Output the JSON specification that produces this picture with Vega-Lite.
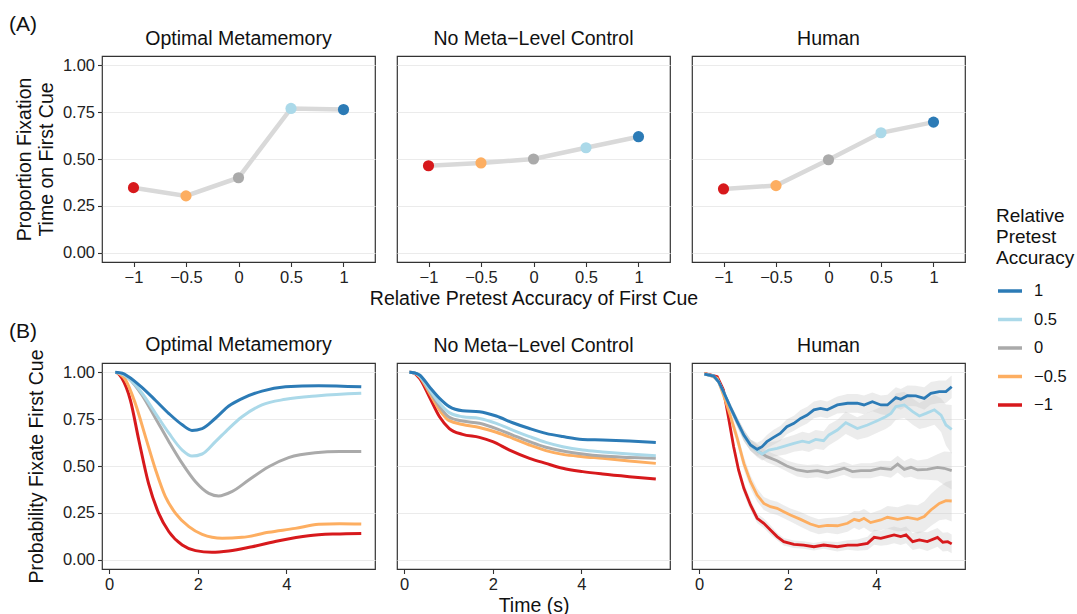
{
"$schema":"https://vega.github.io/schema/vega-lite/v6.json",
"padding":{"left":9,"top":13,"right":5,"bottom":0},
"background":"white",
"spacing":11,
"datasets":{
"A":[
{"p":"opt","lvl":"−1","x":-1,"y":0.347},{"p":"opt","lvl":"−0.5","x":-0.5,"y":0.303},{"p":"opt","lvl":"0","x":0,"y":0.40},{"p":"opt","lvl":"0.5","x":0.5,"y":0.77},{"p":"opt","lvl":"1","x":1,"y":0.764},
{"p":"nm","lvl":"−1","x":-1,"y":0.464},{"p":"nm","lvl":"−0.5","x":-0.5,"y":0.479},{"p":"nm","lvl":"0","x":0,"y":0.50},{"p":"nm","lvl":"0.5","x":0.5,"y":0.56},{"p":"nm","lvl":"1","x":1,"y":0.619},
{"p":"hum","lvl":"−1","x":-1,"y":0.34},{"p":"hum","lvl":"−0.5","x":-0.5,"y":0.358},{"p":"hum","lvl":"0","x":0,"y":0.496},{"p":"hum","lvl":"0.5","x":0.5,"y":0.64},{"p":"hum","lvl":"1","x":1,"y":0.697}
],
"B":[
{"p":"opt","lvl":"−1","t":0.14,"v":1.0},{"p":"opt","lvl":"−1","t":0.2,"v":0.995},{"p":"opt","lvl":"−1","t":0.29,"v":0.968},{"p":"opt","lvl":"−1","t":0.48,"v":0.852},{"p":"opt","lvl":"−1","t":0.67,"v":0.639},{"p":"opt","lvl":"−1","t":0.89,"v":0.407},{"p":"opt","lvl":"−1","t":1.12,"v":0.247},{"p":"opt","lvl":"−1","t":1.35,"v":0.149},{"p":"opt","lvl":"−1","t":1.65,"v":0.078},{"p":"opt","lvl":"−1","t":1.95,"v":0.048},{"p":"opt","lvl":"−1","t":2.32,"v":0.039},{"p":"opt","lvl":"−1","t":2.7,"v":0.046},{"p":"opt","lvl":"−1","t":3.23,"v":0.069},{"p":"opt","lvl":"−1","t":3.83,"v":0.101},{"p":"opt","lvl":"−1","t":4.5,"v":0.128},{"p":"opt","lvl":"−1","t":5.1,"v":0.137},{"p":"opt","lvl":"−1","t":5.69,"v":0.14},
{"p":"opt","lvl":"−0.5","t":0.14,"v":1.0},{"p":"opt","lvl":"−0.5","t":0.25,"v":0.99},{"p":"opt","lvl":"−0.5","t":0.37,"v":0.96},{"p":"opt","lvl":"−0.5","t":0.59,"v":0.835},{"p":"opt","lvl":"−0.5","t":0.82,"v":0.657},{"p":"opt","lvl":"−0.5","t":1.05,"v":0.479},{"p":"opt","lvl":"−0.5","t":1.27,"v":0.336},{"p":"opt","lvl":"−0.5","t":1.5,"v":0.247},{"p":"opt","lvl":"−0.5","t":1.8,"v":0.176},{"p":"opt","lvl":"−0.5","t":2.1,"v":0.135},{"p":"opt","lvl":"−0.5","t":2.55,"v":0.114},{"p":"opt","lvl":"−0.5","t":3.0,"v":0.119},{"p":"opt","lvl":"−0.5","t":3.6,"v":0.146},{"p":"opt","lvl":"−0.5","t":4.2,"v":0.167},{"p":"opt","lvl":"−0.5","t":4.73,"v":0.189},{"p":"opt","lvl":"−0.5","t":5.2,"v":0.192},{"p":"opt","lvl":"−0.5","t":5.69,"v":0.19},
{"p":"opt","lvl":"0","t":0.14,"v":1.0},{"p":"opt","lvl":"0","t":0.3,"v":0.99},{"p":"opt","lvl":"0","t":0.44,"v":0.968},{"p":"opt","lvl":"0","t":0.74,"v":0.88},{"p":"opt","lvl":"0","t":1.05,"v":0.754},{"p":"opt","lvl":"0","t":1.35,"v":0.63},{"p":"opt","lvl":"0","t":1.65,"v":0.514},{"p":"opt","lvl":"0","t":1.95,"v":0.416},{"p":"opt","lvl":"0","t":2.25,"v":0.354},{"p":"opt","lvl":"0","t":2.47,"v":0.34},{"p":"opt","lvl":"0","t":2.77,"v":0.363},{"p":"opt","lvl":"0","t":3.15,"v":0.425},{"p":"opt","lvl":"0","t":3.6,"v":0.496},{"p":"opt","lvl":"0","t":4.05,"v":0.545},{"p":"opt","lvl":"0","t":4.65,"v":0.571},{"p":"opt","lvl":"0","t":5.2,"v":0.577},{"p":"opt","lvl":"0","t":5.69,"v":0.577},
{"p":"opt","lvl":"0.5","t":0.14,"v":1.0},{"p":"opt","lvl":"0.5","t":0.3,"v":0.99},{"p":"opt","lvl":"0.5","t":0.44,"v":0.968},{"p":"opt","lvl":"0.5","t":0.74,"v":0.89},{"p":"opt","lvl":"0.5","t":1.05,"v":0.78},{"p":"opt","lvl":"0.5","t":1.35,"v":0.675},{"p":"opt","lvl":"0.5","t":1.65,"v":0.585},{"p":"opt","lvl":"0.5","t":1.87,"v":0.553},{"p":"opt","lvl":"0.5","t":2.1,"v":0.564},{"p":"opt","lvl":"0.5","t":2.4,"v":0.63},{"p":"opt","lvl":"0.5","t":2.7,"v":0.70},{"p":"opt","lvl":"0.5","t":3.0,"v":0.763},{"p":"opt","lvl":"0.5","t":3.45,"v":0.826},{"p":"opt","lvl":"0.5","t":3.98,"v":0.856},{"p":"opt","lvl":"0.5","t":4.73,"v":0.875},{"p":"opt","lvl":"0.5","t":5.69,"v":0.888},
{"p":"opt","lvl":"1","t":0.14,"v":1.0},{"p":"opt","lvl":"1","t":0.3,"v":0.995},{"p":"opt","lvl":"1","t":0.44,"v":0.977},{"p":"opt","lvl":"1","t":0.74,"v":0.92},{"p":"opt","lvl":"1","t":1.05,"v":0.85},{"p":"opt","lvl":"1","t":1.35,"v":0.78},{"p":"opt","lvl":"1","t":1.65,"v":0.72},{"p":"opt","lvl":"1","t":1.87,"v":0.69},{"p":"opt","lvl":"1","t":2.1,"v":0.70},{"p":"opt","lvl":"1","t":2.4,"v":0.755},{"p":"opt","lvl":"1","t":2.7,"v":0.82},{"p":"opt","lvl":"1","t":3.0,"v":0.86},{"p":"opt","lvl":"1","t":3.45,"v":0.90},{"p":"opt","lvl":"1","t":3.98,"v":0.923},{"p":"opt","lvl":"1","t":4.73,"v":0.929},{"p":"opt","lvl":"1","t":5.69,"v":0.923},
{"p":"nm","lvl":"−1","t":0.12,"v":1.0},{"p":"nm","lvl":"−1","t":0.22,"v":0.997},{"p":"nm","lvl":"−1","t":0.35,"v":0.968},{"p":"nm","lvl":"−1","t":0.57,"v":0.87},{"p":"nm","lvl":"−1","t":0.8,"v":0.763},{"p":"nm","lvl":"−1","t":1.02,"v":0.70},{"p":"nm","lvl":"−1","t":1.32,"v":0.669},{"p":"nm","lvl":"−1","t":1.7,"v":0.653},{"p":"nm","lvl":"−1","t":2.0,"v":0.63},{"p":"nm","lvl":"−1","t":2.38,"v":0.585},{"p":"nm","lvl":"−1","t":2.83,"v":0.541},{"p":"nm","lvl":"−1","t":3.2,"v":0.514},{"p":"nm","lvl":"−1","t":3.58,"v":0.488},{"p":"nm","lvl":"−1","t":4.03,"v":0.47},{"p":"nm","lvl":"−1","t":4.48,"v":0.457},{"p":"nm","lvl":"−1","t":5.08,"v":0.443},{"p":"nm","lvl":"−1","t":5.68,"v":0.431},
{"p":"nm","lvl":"−0.5","t":0.12,"v":1.0},{"p":"nm","lvl":"−0.5","t":0.22,"v":0.998},{"p":"nm","lvl":"−0.5","t":0.35,"v":0.977},{"p":"nm","lvl":"−0.5","t":0.57,"v":0.891},{"p":"nm","lvl":"−0.5","t":0.8,"v":0.799},{"p":"nm","lvl":"−0.5","t":1.02,"v":0.742},{"p":"nm","lvl":"−0.5","t":1.32,"v":0.722},{"p":"nm","lvl":"−0.5","t":1.7,"v":0.706},{"p":"nm","lvl":"−0.5","t":2.08,"v":0.68},{"p":"nm","lvl":"−0.5","t":2.45,"v":0.648},{"p":"nm","lvl":"−0.5","t":2.83,"v":0.612},{"p":"nm","lvl":"−0.5","t":3.2,"v":0.582},{"p":"nm","lvl":"−0.5","t":3.58,"v":0.562},{"p":"nm","lvl":"−0.5","t":4.03,"v":0.55},{"p":"nm","lvl":"−0.5","t":4.48,"v":0.541},{"p":"nm","lvl":"−0.5","t":5.08,"v":0.527},{"p":"nm","lvl":"−0.5","t":5.68,"v":0.514},
{"p":"nm","lvl":"0","t":0.12,"v":1.0},{"p":"nm","lvl":"0","t":0.22,"v":0.998},{"p":"nm","lvl":"0","t":0.35,"v":0.98},{"p":"nm","lvl":"0","t":0.57,"v":0.902},{"p":"nm","lvl":"0","t":0.8,"v":0.817},{"p":"nm","lvl":"0","t":1.02,"v":0.76},{"p":"nm","lvl":"0","t":1.32,"v":0.74},{"p":"nm","lvl":"0","t":1.7,"v":0.728},{"p":"nm","lvl":"0","t":2.08,"v":0.70},{"p":"nm","lvl":"0","t":2.45,"v":0.665},{"p":"nm","lvl":"0","t":2.83,"v":0.63},{"p":"nm","lvl":"0","t":3.2,"v":0.60},{"p":"nm","lvl":"0","t":3.58,"v":0.58},{"p":"nm","lvl":"0","t":4.03,"v":0.564},{"p":"nm","lvl":"0","t":4.48,"v":0.553},{"p":"nm","lvl":"0","t":5.08,"v":0.546},{"p":"nm","lvl":"0","t":5.68,"v":0.541},
{"p":"nm","lvl":"0.5","t":0.12,"v":1.0},{"p":"nm","lvl":"0.5","t":0.22,"v":0.998},{"p":"nm","lvl":"0.5","t":0.35,"v":0.982},{"p":"nm","lvl":"0.5","t":0.57,"v":0.909},{"p":"nm","lvl":"0.5","t":0.8,"v":0.835},{"p":"nm","lvl":"0.5","t":1.02,"v":0.785},{"p":"nm","lvl":"0.5","t":1.32,"v":0.763},{"p":"nm","lvl":"0.5","t":1.7,"v":0.754},{"p":"nm","lvl":"0.5","t":2.08,"v":0.728},{"p":"nm","lvl":"0.5","t":2.45,"v":0.692},{"p":"nm","lvl":"0.5","t":2.83,"v":0.657},{"p":"nm","lvl":"0.5","t":3.2,"v":0.626},{"p":"nm","lvl":"0.5","t":3.58,"v":0.603},{"p":"nm","lvl":"0.5","t":4.03,"v":0.585},{"p":"nm","lvl":"0.5","t":4.48,"v":0.575},{"p":"nm","lvl":"0.5","t":5.08,"v":0.564},{"p":"nm","lvl":"0.5","t":5.68,"v":0.555},
{"p":"nm","lvl":"1","t":0.12,"v":1.0},{"p":"nm","lvl":"1","t":0.22,"v":0.998},{"p":"nm","lvl":"1","t":0.35,"v":0.986},{"p":"nm","lvl":"1","t":0.57,"v":0.923},{"p":"nm","lvl":"1","t":0.8,"v":0.861},{"p":"nm","lvl":"1","t":1.02,"v":0.817},{"p":"nm","lvl":"1","t":1.32,"v":0.795},{"p":"nm","lvl":"1","t":1.7,"v":0.79},{"p":"nm","lvl":"1","t":2.08,"v":0.767},{"p":"nm","lvl":"1","t":2.45,"v":0.731},{"p":"nm","lvl":"1","t":2.83,"v":0.70},{"p":"nm","lvl":"1","t":3.2,"v":0.674},{"p":"nm","lvl":"1","t":3.58,"v":0.657},{"p":"nm","lvl":"1","t":4.03,"v":0.642},{"p":"nm","lvl":"1","t":4.48,"v":0.639},{"p":"nm","lvl":"1","t":5.08,"v":0.633},{"p":"nm","lvl":"1","t":5.68,"v":0.625},
{"p":"hum","lvl":"−1","t":0.12,"v":0.995,"lo":0.99,"hi":1.0},{"p":"hum","lvl":"−1","t":0.41,"v":0.977,"lo":0.967,"hi":0.987},{"p":"hum","lvl":"−1","t":0.55,"v":0.906,"lo":0.886,"hi":0.926},{"p":"hum","lvl":"−1","t":0.66,"v":0.763,"lo":0.733,"hi":0.793},{"p":"hum","lvl":"−1","t":0.78,"v":0.603,"lo":0.573,"hi":0.633},{"p":"hum","lvl":"−1","t":0.89,"v":0.479,"lo":0.449,"hi":0.509},{"p":"hum","lvl":"−1","t":1.01,"v":0.381,"lo":0.351,"hi":0.411},{"p":"hum","lvl":"−1","t":1.16,"v":0.292,"lo":0.262,"hi":0.322},{"p":"hum","lvl":"−1","t":1.31,"v":0.221,"lo":0.196,"hi":0.246},{"p":"hum","lvl":"−1","t":1.46,"v":0.194,"lo":0.169,"hi":0.219},{"p":"hum","lvl":"−1","t":1.61,"v":0.158,"lo":0.133,"hi":0.183},{"p":"hum","lvl":"−1","t":1.76,"v":0.123,"lo":0.103,"hi":0.143},{"p":"hum","lvl":"−1","t":1.91,"v":0.096,"lo":0.076,"hi":0.116},{"p":"hum","lvl":"−1","t":2.14,"v":0.082,"lo":0.062,"hi":0.102},{"p":"hum","lvl":"−1","t":2.36,"v":0.078,"lo":0.058,"hi":0.098},{"p":"hum","lvl":"−1","t":2.59,"v":0.069,"lo":0.049,"hi":0.089},{"p":"hum","lvl":"−1","t":2.81,"v":0.078,"lo":0.058,"hi":0.098},{"p":"hum","lvl":"−1","t":3.12,"v":0.069,"lo":0.044,"hi":0.094},{"p":"hum","lvl":"−1","t":3.35,"v":0.078,"lo":0.053,"hi":0.103},{"p":"hum","lvl":"−1","t":3.57,"v":0.078,"lo":0.048,"hi":0.108},{"p":"hum","lvl":"−1","t":3.8,"v":0.087,"lo":0.052,"hi":0.122},{"p":"hum","lvl":"−1","t":3.95,"v":0.119,"lo":0.079,"hi":0.159},{"p":"hum","lvl":"−1","t":4.1,"v":0.114,"lo":0.074,"hi":0.154},{"p":"hum","lvl":"−1","t":4.25,"v":0.123,"lo":0.078,"hi":0.168},{"p":"hum","lvl":"−1","t":4.4,"v":0.132,"lo":0.087,"hi":0.177},{"p":"hum","lvl":"−1","t":4.55,"v":0.123,"lo":0.078,"hi":0.168},{"p":"hum","lvl":"−1","t":4.67,"v":0.132,"lo":0.087,"hi":0.177},{"p":"hum","lvl":"−1","t":4.82,"v":0.096,"lo":0.051,"hi":0.141},{"p":"hum","lvl":"−1","t":4.97,"v":0.105,"lo":0.06,"hi":0.15},{"p":"hum","lvl":"−1","t":5.15,"v":0.096,"lo":0.046,"hi":0.146},{"p":"hum","lvl":"−1","t":5.38,"v":0.119,"lo":0.069,"hi":0.169},{"p":"hum","lvl":"−1","t":5.5,"v":0.093,"lo":0.043,"hi":0.143},{"p":"hum","lvl":"−1","t":5.61,"v":0.096,"lo":0.046,"hi":0.146},{"p":"hum","lvl":"−1","t":5.7,"v":0.084,"lo":0.034,"hi":0.134},
{"p":"hum","lvl":"−0.5","t":0.12,"v":0.995,"lo":0.99,"hi":1.0},{"p":"hum","lvl":"−0.5","t":0.41,"v":0.968,"lo":0.958,"hi":0.978},{"p":"hum","lvl":"−0.5","t":0.55,"v":0.879,"lo":0.859,"hi":0.899},{"p":"hum","lvl":"−0.5","t":0.7,"v":0.772,"lo":0.742,"hi":0.802},{"p":"hum","lvl":"−0.5","t":0.86,"v":0.648,"lo":0.613,"hi":0.683},{"p":"hum","lvl":"−0.5","t":1.01,"v":0.514,"lo":0.479,"hi":0.549},{"p":"hum","lvl":"−0.5","t":1.16,"v":0.416,"lo":0.381,"hi":0.451},{"p":"hum","lvl":"−0.5","t":1.31,"v":0.345,"lo":0.31,"hi":0.38},{"p":"hum","lvl":"−0.5","t":1.46,"v":0.30,"lo":0.265,"hi":0.335},{"p":"hum","lvl":"−0.5","t":1.61,"v":0.283,"lo":0.248,"hi":0.318},{"p":"hum","lvl":"−0.5","t":1.76,"v":0.274,"lo":0.239,"hi":0.309},{"p":"hum","lvl":"−0.5","t":1.91,"v":0.256,"lo":0.221,"hi":0.291},{"p":"hum","lvl":"−0.5","t":2.06,"v":0.238,"lo":0.203,"hi":0.273},{"p":"hum","lvl":"−0.5","t":2.29,"v":0.215,"lo":0.175,"hi":0.255},{"p":"hum","lvl":"−0.5","t":2.51,"v":0.19,"lo":0.15,"hi":0.23},{"p":"hum","lvl":"−0.5","t":2.7,"v":0.176,"lo":0.136,"hi":0.216},{"p":"hum","lvl":"−0.5","t":2.89,"v":0.183,"lo":0.143,"hi":0.223},{"p":"hum","lvl":"−0.5","t":3.12,"v":0.181,"lo":0.136,"hi":0.226},{"p":"hum","lvl":"−0.5","t":3.35,"v":0.194,"lo":0.149,"hi":0.239},{"p":"hum","lvl":"−0.5","t":3.5,"v":0.215,"lo":0.17,"hi":0.26},{"p":"hum","lvl":"−0.5","t":3.61,"v":0.208,"lo":0.158,"hi":0.258},{"p":"hum","lvl":"−0.5","t":3.72,"v":0.221,"lo":0.171,"hi":0.271},{"p":"hum","lvl":"−0.5","t":3.87,"v":0.198,"lo":0.148,"hi":0.248},{"p":"hum","lvl":"−0.5","t":4.1,"v":0.212,"lo":0.157,"hi":0.267},{"p":"hum","lvl":"−0.5","t":4.25,"v":0.226,"lo":0.166,"hi":0.286},{"p":"hum","lvl":"−0.5","t":4.48,"v":0.215,"lo":0.15,"hi":0.28},{"p":"hum","lvl":"−0.5","t":4.7,"v":0.226,"lo":0.156,"hi":0.296},{"p":"hum","lvl":"−0.5","t":4.93,"v":0.215,"lo":0.14,"hi":0.29},{"p":"hum","lvl":"−0.5","t":5.08,"v":0.23,"lo":0.15,"hi":0.31},{"p":"hum","lvl":"−0.5","t":5.23,"v":0.265,"lo":0.18,"hi":0.35},{"p":"hum","lvl":"−0.5","t":5.42,"v":0.30,"lo":0.21,"hi":0.39},{"p":"hum","lvl":"−0.5","t":5.57,"v":0.315,"lo":0.215,"hi":0.415},{"p":"hum","lvl":"−0.5","t":5.7,"v":0.313,"lo":0.203,"hi":0.423},
{"p":"hum","lvl":"0","t":0.12,"v":0.991,"lo":0.983,"hi":0.999},{"p":"hum","lvl":"0","t":0.33,"v":0.98,"lo":0.97,"hi":0.99},{"p":"hum","lvl":"0","t":0.44,"v":0.95,"lo":0.938,"hi":0.962},{"p":"hum","lvl":"0","t":0.55,"v":0.895,"lo":0.88,"hi":0.91},{"p":"hum","lvl":"0","t":0.7,"v":0.815,"lo":0.795,"hi":0.835},{"p":"hum","lvl":"0","t":0.86,"v":0.735,"lo":0.71,"hi":0.76},{"p":"hum","lvl":"0","t":1.01,"v":0.663,"lo":0.633,"hi":0.693},{"p":"hum","lvl":"0","t":1.16,"v":0.612,"lo":0.582,"hi":0.642},{"p":"hum","lvl":"0","t":1.31,"v":0.582,"lo":0.552,"hi":0.612},{"p":"hum","lvl":"0","t":1.53,"v":0.55,"lo":0.52,"hi":0.58},{"p":"hum","lvl":"0","t":1.76,"v":0.528,"lo":0.498,"hi":0.558},{"p":"hum","lvl":"0","t":1.98,"v":0.50,"lo":0.47,"hi":0.53},{"p":"hum","lvl":"0","t":2.21,"v":0.479,"lo":0.444,"hi":0.514},{"p":"hum","lvl":"0","t":2.44,"v":0.47,"lo":0.435,"hi":0.505},{"p":"hum","lvl":"0","t":2.67,"v":0.475,"lo":0.44,"hi":0.51},{"p":"hum","lvl":"0","t":2.89,"v":0.464,"lo":0.429,"hi":0.499},{"p":"hum","lvl":"0","t":3.08,"v":0.475,"lo":0.44,"hi":0.51},{"p":"hum","lvl":"0","t":3.27,"v":0.488,"lo":0.453,"hi":0.523},{"p":"hum","lvl":"0","t":3.46,"v":0.47,"lo":0.435,"hi":0.505},{"p":"hum","lvl":"0","t":3.65,"v":0.475,"lo":0.435,"hi":0.515},{"p":"hum","lvl":"0","t":3.87,"v":0.475,"lo":0.435,"hi":0.515},{"p":"hum","lvl":"0","t":4.1,"v":0.488,"lo":0.448,"hi":0.528},{"p":"hum","lvl":"0","t":4.33,"v":0.482,"lo":0.437,"hi":0.527},{"p":"hum","lvl":"0","t":4.48,"v":0.51,"lo":0.465,"hi":0.555},{"p":"hum","lvl":"0","t":4.63,"v":0.482,"lo":0.437,"hi":0.527},{"p":"hum","lvl":"0","t":4.78,"v":0.493,"lo":0.443,"hi":0.543},{"p":"hum","lvl":"0","t":4.93,"v":0.479,"lo":0.429,"hi":0.529},{"p":"hum","lvl":"0","t":5.15,"v":0.482,"lo":0.427,"hi":0.537},{"p":"hum","lvl":"0","t":5.38,"v":0.493,"lo":0.423,"hi":0.563},{"p":"hum","lvl":"0","t":5.53,"v":0.488,"lo":0.398,"hi":0.578},{"p":"hum","lvl":"0","t":5.7,"v":0.475,"lo":0.375,"hi":0.575},
{"p":"hum","lvl":"0.5","t":0.12,"v":0.991,"lo":0.983,"hi":0.999},{"p":"hum","lvl":"0.5","t":0.33,"v":0.98,"lo":0.97,"hi":0.99},{"p":"hum","lvl":"0.5","t":0.44,"v":0.95,"lo":0.938,"hi":0.962},{"p":"hum","lvl":"0.5","t":0.55,"v":0.895,"lo":0.88,"hi":0.91},{"p":"hum","lvl":"0.5","t":0.7,"v":0.815,"lo":0.795,"hi":0.835},{"p":"hum","lvl":"0.5","t":0.86,"v":0.735,"lo":0.71,"hi":0.76},{"p":"hum","lvl":"0.5","t":1.01,"v":0.662,"lo":0.632,"hi":0.692},{"p":"hum","lvl":"0.5","t":1.16,"v":0.612,"lo":0.582,"hi":0.642},{"p":"hum","lvl":"0.5","t":1.31,"v":0.582,"lo":0.547,"hi":0.617},{"p":"hum","lvl":"0.5","t":1.42,"v":0.564,"lo":0.529,"hi":0.599},{"p":"hum","lvl":"0.5","t":1.57,"v":0.585,"lo":0.545,"hi":0.625},{"p":"hum","lvl":"0.5","t":1.76,"v":0.594,"lo":0.554,"hi":0.634},{"p":"hum","lvl":"0.5","t":1.95,"v":0.607,"lo":0.562,"hi":0.652},{"p":"hum","lvl":"0.5","t":2.14,"v":0.621,"lo":0.576,"hi":0.666},{"p":"hum","lvl":"0.5","t":2.33,"v":0.633,"lo":0.583,"hi":0.683},{"p":"hum","lvl":"0.5","t":2.48,"v":0.625,"lo":0.575,"hi":0.675},{"p":"hum","lvl":"0.5","t":2.63,"v":0.642,"lo":0.592,"hi":0.692},{"p":"hum","lvl":"0.5","t":2.81,"v":0.635,"lo":0.585,"hi":0.685},{"p":"hum","lvl":"0.5","t":2.93,"v":0.666,"lo":0.611,"hi":0.721},{"p":"hum","lvl":"0.5","t":3.12,"v":0.692,"lo":0.637,"hi":0.747},{"p":"hum","lvl":"0.5","t":3.31,"v":0.731,"lo":0.671,"hi":0.791},{"p":"hum","lvl":"0.5","t":3.57,"v":0.70,"lo":0.64,"hi":0.76},{"p":"hum","lvl":"0.5","t":3.8,"v":0.719,"lo":0.654,"hi":0.784},{"p":"hum","lvl":"0.5","t":4.02,"v":0.742,"lo":0.677,"hi":0.807},{"p":"hum","lvl":"0.5","t":4.21,"v":0.763,"lo":0.698,"hi":0.828},{"p":"hum","lvl":"0.5","t":4.33,"v":0.781,"lo":0.716,"hi":0.846},{"p":"hum","lvl":"0.5","t":4.44,"v":0.817,"lo":0.747,"hi":0.887},{"p":"hum","lvl":"0.5","t":4.63,"v":0.826,"lo":0.756,"hi":0.896},{"p":"hum","lvl":"0.5","t":4.82,"v":0.79,"lo":0.72,"hi":0.86},{"p":"hum","lvl":"0.5","t":4.97,"v":0.767,"lo":0.697,"hi":0.837},{"p":"hum","lvl":"0.5","t":5.12,"v":0.781,"lo":0.706,"hi":0.856},{"p":"hum","lvl":"0.5","t":5.31,"v":0.80,"lo":0.72,"hi":0.88},{"p":"hum","lvl":"0.5","t":5.46,"v":0.772,"lo":0.682,"hi":0.862},{"p":"hum","lvl":"0.5","t":5.57,"v":0.719,"lo":0.609,"hi":0.829},{"p":"hum","lvl":"0.5","t":5.7,"v":0.696,"lo":0.566,"hi":0.826},
{"p":"hum","lvl":"1","t":0.12,"v":0.991,"lo":0.983,"hi":0.999},{"p":"hum","lvl":"1","t":0.33,"v":0.98,"lo":0.97,"hi":0.99},{"p":"hum","lvl":"1","t":0.44,"v":0.95,"lo":0.938,"hi":0.962},{"p":"hum","lvl":"1","t":0.55,"v":0.897,"lo":0.882,"hi":0.912},{"p":"hum","lvl":"1","t":0.7,"v":0.817,"lo":0.797,"hi":0.837},{"p":"hum","lvl":"1","t":0.86,"v":0.737,"lo":0.712,"hi":0.762},{"p":"hum","lvl":"1","t":1.01,"v":0.665,"lo":0.635,"hi":0.695},{"p":"hum","lvl":"1","t":1.16,"v":0.612,"lo":0.582,"hi":0.642},{"p":"hum","lvl":"1","t":1.31,"v":0.589,"lo":0.554,"hi":0.624},{"p":"hum","lvl":"1","t":1.42,"v":0.603,"lo":0.568,"hi":0.638},{"p":"hum","lvl":"1","t":1.53,"v":0.63,"lo":0.595,"hi":0.665},{"p":"hum","lvl":"1","t":1.68,"v":0.653,"lo":0.613,"hi":0.693},{"p":"hum","lvl":"1","t":1.83,"v":0.674,"lo":0.634,"hi":0.714},{"p":"hum","lvl":"1","t":1.98,"v":0.71,"lo":0.67,"hi":0.75},{"p":"hum","lvl":"1","t":2.14,"v":0.728,"lo":0.688,"hi":0.768},{"p":"hum","lvl":"1","t":2.29,"v":0.754,"lo":0.709,"hi":0.799},{"p":"hum","lvl":"1","t":2.44,"v":0.772,"lo":0.727,"hi":0.817},{"p":"hum","lvl":"1","t":2.59,"v":0.80,"lo":0.755,"hi":0.845},{"p":"hum","lvl":"1","t":2.74,"v":0.808,"lo":0.763,"hi":0.853},{"p":"hum","lvl":"1","t":2.89,"v":0.80,"lo":0.755,"hi":0.845},{"p":"hum","lvl":"1","t":3.12,"v":0.826,"lo":0.781,"hi":0.871},{"p":"hum","lvl":"1","t":3.35,"v":0.835,"lo":0.785,"hi":0.885},{"p":"hum","lvl":"1","t":3.57,"v":0.835,"lo":0.785,"hi":0.885},{"p":"hum","lvl":"1","t":3.72,"v":0.826,"lo":0.776,"hi":0.876},{"p":"hum","lvl":"1","t":3.91,"v":0.843,"lo":0.793,"hi":0.893},{"p":"hum","lvl":"1","t":4.1,"v":0.826,"lo":0.776,"hi":0.876},{"p":"hum","lvl":"1","t":4.25,"v":0.826,"lo":0.771,"hi":0.881},{"p":"hum","lvl":"1","t":4.44,"v":0.865,"lo":0.81,"hi":0.92},{"p":"hum","lvl":"1","t":4.55,"v":0.856,"lo":0.801,"hi":0.911},{"p":"hum","lvl":"1","t":4.7,"v":0.875,"lo":0.82,"hi":0.93},{"p":"hum","lvl":"1","t":4.89,"v":0.874,"lo":0.819,"hi":0.929},{"p":"hum","lvl":"1","t":5.08,"v":0.861,"lo":0.801,"hi":0.921},{"p":"hum","lvl":"1","t":5.23,"v":0.888,"lo":0.828,"hi":0.948},{"p":"hum","lvl":"1","t":5.42,"v":0.897,"lo":0.837,"hi":0.957},{"p":"hum","lvl":"1","t":5.57,"v":0.897,"lo":0.837,"hi":0.957},{"p":"hum","lvl":"1","t":5.7,"v":0.923,"lo":0.863,"hi":0.983}
]
},
"vconcat":[
{"title":{"text":"(A)","anchor":"start","frame":"group","dx":-93,"fontSize":21,"offset":-7},
 "bounds":"flush","spacing":22,
 "hconcat":[
  {"width":273,"height":206,"title":"Optimal Metamemory","data":{"name":"A"},"transform":[{"filter":"datum.p==='opt'"}],
   "encoding":{"x":{"field":"x","type":"quantitative","scale":{"domain":[-1.3,1.3],"nice":false,"zero":false},"axis":{"values":[-1,-0.5,0,0.5,1],"format":"~g","title":null}},
    "y":{"field":"y","type":"quantitative","scale":{"domain":[-0.05,1.05],"nice":false,"zero":false},"axis":{"values":[0,0.25,0.5,0.75,1],"format":".2f","title":["Proportion Fixation","Time on First Cue"],"titlePadding":6}}},
   "layer":[{"mark":{"type":"line","color":"#d9d9d9","strokeWidth":4.5},"encoding":{}},
    {"mark":{"type":"point","filled":true,"size":125,"opacity":1,"strokeWidth":0},"encoding":{"fill":{"field":"lvl","type":"nominal","scale":{"domain":["−1","−0.5","0","0.5","1"],"range":["#d7191c","#fdae61","#aaaaaa","#abd9e9","#2c7bb6"]},"legend":null}}}]},
  {"width":273,"height":206,"title":"No Meta−Level Control","data":{"name":"A"},"transform":[{"filter":"datum.p==='nm'"}],
   "encoding":{"x":{"field":"x","type":"quantitative","scale":{"domain":[-1.3,1.3],"nice":false,"zero":false},"axis":{"values":[-1,-0.5,0,0.5,1],"format":"~g","title":"Relative Pretest Accuracy of First Cue"}},
    "y":{"field":"y","type":"quantitative","scale":{"domain":[-0.05,1.05],"nice":false,"zero":false},"axis":{"values":[0,0.25,0.5,0.75,1],"labels":false,"ticks":false,"title":null}}},
   "layer":[{"mark":{"type":"line","color":"#d9d9d9","strokeWidth":4.5},"encoding":{}},
    {"mark":{"type":"point","filled":true,"size":125,"opacity":1,"strokeWidth":0},"encoding":{"fill":{"field":"lvl","type":"nominal","scale":{"domain":["−1","−0.5","0","0.5","1"],"range":["#d7191c","#fdae61","#aaaaaa","#abd9e9","#2c7bb6"]},"legend":null}}}]},
  {"width":273,"height":206,"title":"Human","data":{"name":"A"},"transform":[{"filter":"datum.p==='hum'"}],
   "encoding":{"x":{"field":"x","type":"quantitative","scale":{"domain":[-1.3,1.3],"nice":false,"zero":false},"axis":{"values":[-1,-0.5,0,0.5,1],"format":"~g","title":null}},
    "y":{"field":"y","type":"quantitative","scale":{"domain":[-0.05,1.05],"nice":false,"zero":false},"axis":{"values":[0,0.25,0.5,0.75,1],"labels":false,"ticks":false,"title":null}}},
   "layer":[{"mark":{"type":"line","color":"#d9d9d9","strokeWidth":4.5},"encoding":{}},
    {"mark":{"type":"point","filled":true,"size":125,"opacity":1,"strokeWidth":0},"encoding":{"fill":{"field":"lvl","type":"nominal","scale":{"domain":["−1","−0.5","0","0.5","1"],"range":["#d7191c","#fdae61","#aaaaaa","#abd9e9","#2c7bb6"]},"legend":null}}}]}
 ]},
{"title":{"text":"(B)","anchor":"start","frame":"group","dx":-93,"fontSize":21,"offset":-7},
 "bounds":"flush","spacing":22,
 "hconcat":[
  {"width":273,"height":206,"title":{"text":"Optimal Metamemory","offset":-7},"data":{"name":"B"},"transform":[{"filter":"datum.p==='opt'"}],
   "encoding":{"x":{"field":"t","type":"quantitative","scale":{"domain":[-0.16,6.0],"nice":false,"zero":false},"axis":{"values":[0,2,4],"format":"d","title":null}},
    "y":{"field":"v","type":"quantitative","scale":{"domain":[-0.05,1.05],"nice":false,"zero":false},"axis":{"values":[0,0.25,0.5,0.75,1],"format":".2f","title":"Probability Fixate First Cue","titlePadding":16}},
    "color":{"field":"lvl","type":"nominal","scale":{"domain":["1","0.5","0","−0.5","−1"],"range":["#2c7bb6","#abd9e9","#aaaaaa","#fdae61","#d7191c"]},"legend":{"orient":"none","legendX":894,"legendY":151,"title":["Relative","Pretest","Accuracy"],"symbolType":"stroke","symbolSize":576,"symbolStrokeWidth":3.5,"labelOffset":10,"rowPadding":5.5,"titlePadding":9}}},
   "mark":{"type":"line","strokeWidth":3,"interpolate":"monotone"}},
  {"width":273,"height":206,"title":"No Meta−Level Control","data":{"name":"B"},"transform":[{"filter":"datum.p==='nm'"}],
   "encoding":{"x":{"field":"t","type":"quantitative","scale":{"domain":[-0.16,6.0],"nice":false,"zero":false},"axis":{"values":[0,2,4],"format":"d","title":"Time (s)"}},
    "y":{"field":"v","type":"quantitative","scale":{"domain":[-0.05,1.05],"nice":false,"zero":false},"axis":{"values":[0,0.25,0.5,0.75,1],"labels":false,"ticks":false,"title":null}},
    "color":{"field":"lvl","type":"nominal","scale":{"domain":["1","0.5","0","−0.5","−1"],"range":["#2c7bb6","#abd9e9","#aaaaaa","#fdae61","#d7191c"]},"legend":{"orient":"none","legendX":894,"legendY":151,"title":["Relative","Pretest","Accuracy"],"symbolType":"stroke","symbolSize":576,"symbolStrokeWidth":3.5,"labelOffset":10,"rowPadding":5.5,"titlePadding":9}}},
   "mark":{"type":"line","strokeWidth":3,"interpolate":"monotone"}},
  {"width":273,"height":206,"title":"Human","data":{"name":"B"},"transform":[{"filter":"datum.p==='hum'"}],
   "encoding":{"x":{"field":"t","type":"quantitative","scale":{"domain":[-0.16,6.0],"nice":false,"zero":false},"axis":{"values":[0,2,4],"format":"d","title":null}}},
   "layer":[
    {"mark":{"type":"area","color":"#c8c8c8","opacity":0.35},"encoding":{"y":{"field":"lo","type":"quantitative","scale":{"domain":[-0.05,1.05],"nice":false,"zero":false},"axis":{"values":[0,0.25,0.5,0.75,1],"labels":false,"ticks":false,"title":null}},"y2":{"field":"hi"},"detail":{"field":"lvl","type":"nominal"}}},
    {"mark":{"type":"line","strokeWidth":2.8},"encoding":{"y":{"field":"v","type":"quantitative"},
     "color":{"field":"lvl","type":"nominal","scale":{"domain":["1","0.5","0","−0.5","−1"],"range":["#2c7bb6","#abd9e9","#aaaaaa","#fdae61","#d7191c"]},"legend":{"orient":"none","legendX":894,"legendY":151,"title":["Relative","Pretest","Accuracy"],"symbolType":"stroke","symbolSize":576,"symbolStrokeWidth":3.5,"labelOffset":10,"rowPadding":5.5,"titlePadding":9}}}}
   ]}
 ]}
],
"config":{
 "font":"Liberation Sans",
 "view":{"stroke":"#333333","strokeWidth":1.2},
 "axis":{"domain":false,"grid":true,"gridColor":"#ebebeb","gridWidth":1.2,"tickColor":"#333333","tickSize":4.5,"tickWidth":1.1,"labelColor":"#222222","labelFontSize":16.5,"labelPadding":3,"titleFontSize":19.5,"titleFontWeight":"normal","titleColor":"#111111"},
 "axisX":{"grid":false,"titlePadding":3},
 "title":{"fontSize":19.5,"fontWeight":"normal","offset":7,"color":"#111111"},
 "legend":{"titleFontSize":19,"titleFontWeight":"normal","titleLineHeight":21,"labelFontSize":16.5,"labelColor":"#111111","titleColor":"#111111","padding":0}
}
}
